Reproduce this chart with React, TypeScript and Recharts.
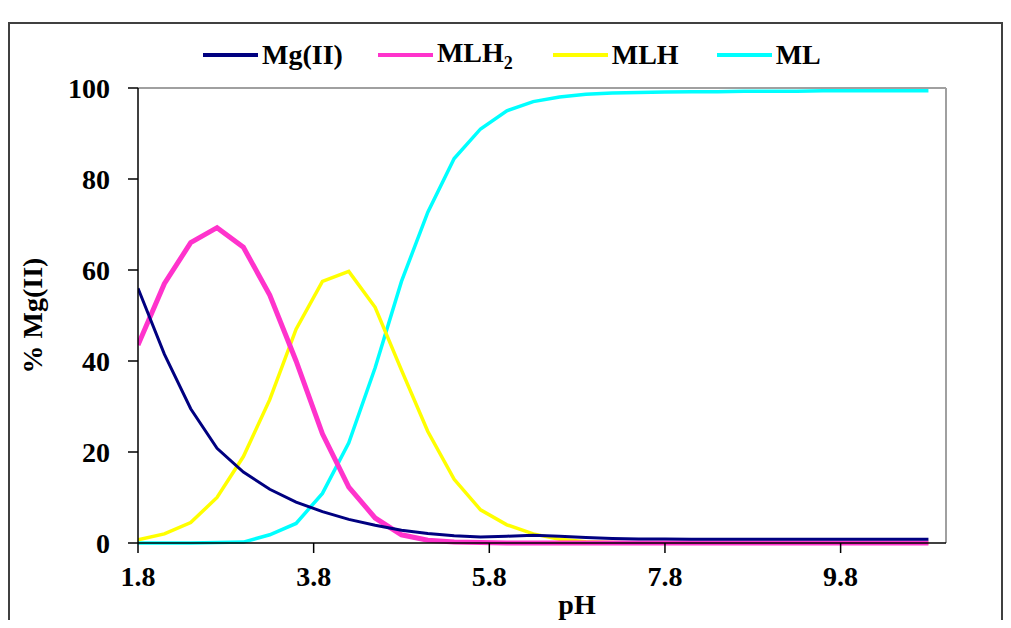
import React from 'react';
import { LineChart, Line, XAxis, YAxis, Legend, ReferenceLine } from 'recharts';

const pH = [1.8, 2.1, 2.4, 2.7, 3.0, 3.3, 3.6, 3.9, 4.2, 4.5, 4.8, 5.1, 5.4, 5.7, 6.0, 6.3, 6.6, 6.9, 7.2, 7.5, 7.8, 8.1, 8.4, 8.7, 9.0, 9.3, 9.6, 9.9, 10.2, 10.5, 10.8];
const mg = [56, 41.5, 29.5, 20.8, 15.6, 11.8, 9.0, 6.9, 5.2, 3.9, 2.8, 2.1, 1.6, 1.3, 1.5, 1.7, 1.5, 1.2, 1.0, 0.9, 0.9, 0.8, 0.8, 0.8, 0.8, 0.8, 0.8, 0.8, 0.8, 0.8, 0.8];
const mlh2 = [43.5, 57, 66, 69.3, 65, 54.5, 40, 24, 12.3, 5.5, 1.8, 0.6, 0.2, 0.1, 0, 0, 0, 0, 0, 0, 0, 0, 0, 0, 0, 0, 0, 0, 0, 0, 0];
const mlh = [0.7, 2.0, 4.5, 10, 19, 31.5, 47, 57.5, 59.7, 51.8, 38, 24.5, 14, 7.3, 4, 2, 0.8, 0.3, 0.1, 0, 0, 0, 0, 0, 0, 0, 0, 0, 0, 0, 0];
const ml = [0, 0, 0, 0.1, 0.2, 1.8, 4.3, 10.9, 22, 38.5, 57.5, 72.7, 84.5, 91, 95, 97, 98, 98.6, 98.9, 99, 99.1, 99.2, 99.2, 99.3, 99.3, 99.3, 99.4, 99.4, 99.4, 99.4, 99.4];
const xTicks = [1.8, 3.8, 5.8, 7.8, 9.8];
const yTicks = [0, 20, 40, 60, 80, 100];

const data = pH.map((x, i) => ({ pH: x, mg: mg[i], mlh2: mlh2[i], mlh: mlh[i], ml: ml[i] }));

const FONT = '"Liberation Serif", "Times New Roman", serif';
const tickStyle = { fontFamily: FONT, fontSize: 28, fontWeight: 700, fill: '#000' };

const legendItems = [
  { key: 'mg', color: '#000080', label: 'Mg(II)', sub: '', width: 3, gap: 0 },
  { key: 'mlh2', color: '#FF33CC', label: 'MLH', sub: '2', width: 5, gap: 35 },
  { key: 'mlh', color: '#FFFF00', label: 'MLH', sub: '', width: 4, gap: 40 },
  { key: 'ml', color: '#00FFFF', label: 'ML', sub: '', width: 4, gap: 38 },
];

const renderLegend = () => (
  <div style={{ display: 'flex', alignItems: 'center', height: 34, fontFamily: FONT, fontSize: 28, fontWeight: 700, color: '#000', whiteSpace: 'nowrap' }}>
    {legendItems.map((it) => (
      <div key={it.key} style={{ display: 'flex', alignItems: 'center', marginLeft: it.gap }}>
        <svg width={55} height={6} style={{ marginRight: 4 }}>
          <line x1={0} y1={3} x2={55} y2={3} stroke={it.color} strokeWidth={4} />
        </svg>
        <span>
          {it.label}
          {it.sub ? <sub style={{ fontSize: 18 }}>{it.sub}</sub> : null}
        </span>
      </div>
    ))}
  </div>
);

export default function App() {
  return (
    <div style={{ position: 'relative', width: 995, height: 612, overflow: 'hidden', background: '#fff' }}>
      <div style={{ position: 'absolute', left: 0, top: 14, width: 995, height: 620, boxSizing: 'border-box', borderTop: '2px solid #404040', borderLeft: '2px solid #404040', borderRight: '2px solid #404040' }} />
      <div style={{ position: 'absolute', left: 0, top: 0 }}>
        <LineChart width={995} height={612} data={data} margin={{ top: 80, right: 57, bottom: 0, left: 0 }}>
          <XAxis
            dataKey="pH"
            type="number"
            domain={[1.8, 11]}
            ticks={xTicks}
            tickFormatter={(v: number) => v.toFixed(1)}
            allowDataOverflow
            height={77}
            tickSize={10}
            tickMargin={13}
            stroke="#000"
            strokeWidth={1.5}
            tick={tickStyle}
            label={{ value: 'pH', position: 'insideBottom', offset: 6, dx: 35, style: { fontFamily: FONT, fontSize: 28, fontWeight: 700, fill: '#000' } }}
          />
          <YAxis
            type="number"
            domain={[0, 100]}
            ticks={yTicks}
            width={130}
            tickSize={10}
            tickMargin={18}
            stroke="#000"
            strokeWidth={1.5}
            tick={tickStyle}
            label={{ value: '% Mg(II)', angle: -90, position: 'insideLeft', offset: 24, style: { fontFamily: FONT, fontSize: 28, fontWeight: 700, fill: '#000', textAnchor: 'middle' } }}
          />
          <ReferenceLine y={100} stroke="#A0A0A0" strokeWidth={2} />
          <ReferenceLine x={11} stroke="#A0A0A0" strokeWidth={2} />
          <Legend layout="horizontal" verticalAlign="middle" align="center" wrapperStyle={{ top: 30, left: 195, width: 760, height: 34 }} content={renderLegend} />
          <Line type="linear" dataKey="ml" stroke="#00FFFF" strokeWidth={3.5} dot={false} isAnimationActive={false} />
          <Line type="linear" dataKey="mlh" stroke="#FFFF00" strokeWidth={3.5} dot={false} isAnimationActive={false} />
          <Line type="linear" dataKey="mlh2" stroke="#FF33CC" strokeWidth={5} dot={false} isAnimationActive={false} />
          <Line type="linear" dataKey="mg" stroke="#000080" strokeWidth={3} dot={false} isAnimationActive={false} />
        </LineChart>
      </div>
    </div>
  );
}
